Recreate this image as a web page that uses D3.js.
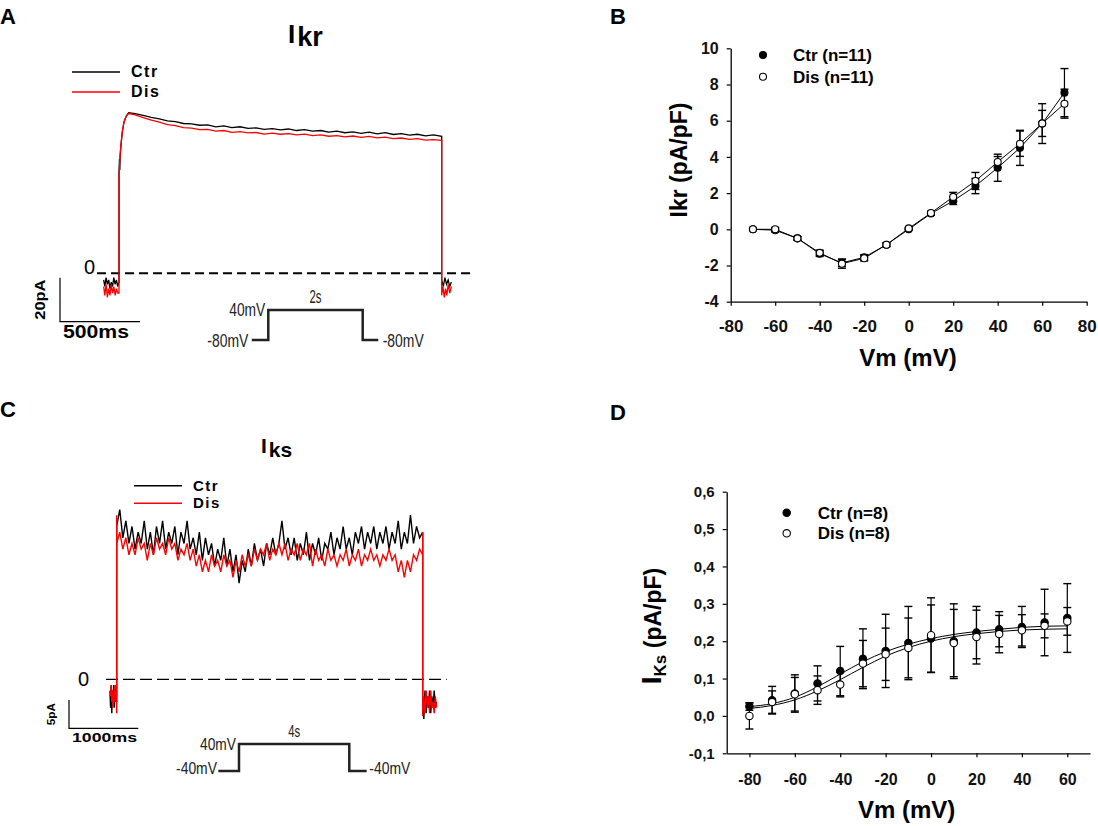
<!DOCTYPE html>
<html>
<head>
<meta charset="utf-8">
<script src="https://cdn.jsdelivr.net/npm/d3@7"></script>
<style>
	body { margin: 0; background: #fff; }
	text { font-family: "Liberation Sans", Arial, sans-serif; }
</style>
</head>
<body>
<svg id="fig" width="1098" height="826"></svg>
<script>
// --- DATA --- \\

// Panel A: Ikr trace (time in ms, current in pA)
var ikrCtrPre = [[-95,-3],[-88,-6],[-80,-2],[-72,-5],[-64,-3],[-56,-7],[-48,-4],[-40,-6],[-32,-2],[-24,-5],[-16,-3],[-8,-6],[0,-4]];
var ikrDisPre = [[-95,-6],[-88,-10],[-80,-5],[-72,-11],[-64,-7],[-56,-10],[-48,-5],[-40,-9],[-32,-6],[-24,-10],[-16,-7],[-8,-9],[0,-9]];
var ikrCtrRise = [[0,46],[3,52],[5,47],[7,53],[12,58],[20,64],[30,68.5],[45,71.5],[60,73]];
var ikrDisRise = [[0,44],[4,50],[8,55],[14,60],[22,65],[32,69],[45,71.5],[60,72.6]];
var ikrPlateauTimes = d3.range(100, 2001, 50);
var ikrCtrPlateau = [72.6,71.8,70.9,70.2,69.3,68.9,68.1,67.9,67.3,67.5,
	66.6,67.0,66.2,66.6,65.9,66.1,65.4,65.8,65.2,65.6,
	64.9,65.3,64.6,64.9,64.2,64.6,63.9,64.3,63.6,64.2,
	63.4,63.9,63.1,63.5,62.8,63.2,62.5,62.9,62.3];
var ikrDisPlateau = [72.0,70.8,69.6,68.7,67.6,67.1,66.2,66.0,65.3,65.4,
	64.6,64.9,64.1,64.4,63.8,64.0,63.3,63.7,63.2,63.5,
	62.9,63.3,62.6,62.9,62.3,62.6,62.0,62.4,61.8,62.2,
	61.6,61.9,61.2,61.5,60.9,61.2,60.5,60.8,60.4];
var ikrCtrTail = [[2000,-3],[2010,-6],[2020,-2],[2030,-5],[2040,-3],[2050,-6],[2060,-4]];
var ikrDisTail = [[2000,-10],[2008,-6],[2016,-11],[2024,-7],[2032,-10],[2040,-5],[2050,-9],[2060,-6]];

// Panel B: Ikr I-V (mV, pA/pF)
var ikrVm = [-70,-60,-50,-40,-30,-20,-10,0,10,20,30,40,50,60,70];
var ikrCtr = [0,-0.05,-0.5,-1.35,-1.85,-1.55,-0.85,0,0.87,1.57,2.39,3.4,4.5,5.84,7.55];
var ikrCtrErr = [0.05,0.1,0.1,0.15,0.2,0.15,0.1,0.05,0.1,0.2,0.42,0.75,0.97,1.1,1.33];
var ikrDis = [0,0,-0.5,-1.3,-1.9,-1.6,-0.85,0.05,0.9,1.79,2.67,3.72,4.73,5.85,6.94];
var ikrDisErr = [0.05,0.1,0.1,0.15,0.25,0.15,0.1,0.05,0.1,0.25,0.47,0.3,0.7,0.72,0.8];
var ikrXTicks = [-80,-60,-40,-20,0,20,40,60,80];
var ikrYTicks = [-4,-2,0,2,4,6,8,10];

// Panel C: Iks trace (time in ms, current in pA)
var iksCtrPre = [[-88,-2],[-80,-5],[-72,-1],[-64,-6],[-56,-2],[-48,-4],[-40,-1],[-32,-5],[-24,-2],[-16,-4],[-8,-1],[0,-4]];
var iksDisPre = [[-80,-3],[-72,-1],[-64,-4],[-56,-2],[-48,-5],[-40,-2],[-32,-4],[-24,-1],[-16,-3],[-8,-2],[0,-6],[0,29]];
var iksTimes = d3.range(0, 4001, 40);
var iksCtrStep = [27,30,25,28,24,27,23,26,24,28,
	23,26,22,27,24,28,23,26,24,27,
	22,26,24,28,23,25,22,26,21,25,
	22,24,20,23,21,25,20,23,19,22,
	17,21,19,23,20,24,21,23,20,24,
	22,25,22,24,28,23,25,22,25,21,
	24,22,26,21,24,22,25,21,24,23,
	26,22,25,23,27,23,25,22,26,24,
	27,23,26,24,27,23,26,24,27,23,
	26,24,28,23,26,24,29,24,27,25,
	26];
var iksDisStep = [24,26,23,25,22,24,22,25,23,24,
	21,24,22,25,23,24,22,25,23,24,
	21,23,22,24,21,23,20,22,19,21,
	19,22,20,21,19,22,20,21,18,21,
	19,22,20,22,20,23,21,23,22,24,
	21,23,22,24,22,24,21,23,22,24,
	21,23,22,24,20,23,21,22,20,23,
	21,22,20,22,21,23,20,22,21,23,
	20,22,21,23,21,22,20,22,21,23,
	21,22,19,21,18,21,19,22,21,23,
	22];
var iksCtrTail = [[4000,-4],[4015,-7],[4030,-2],[4045,-6],[4060,-3],[4075,-5],[4090,-2],[4105,-6],[4120,-3],[4135,-5],[4150,-2],[4165,-5],[4180,-4]];
var iksDisTail = [[4000,26],[4000,-6.5],[4015,-3],[4030,-6],[4045,-2],[4060,-5],[4075,-3],[4090,-6],[4105,-2],[4120,-5],[4135,-4],[4150,-6],[4165,-3],[4180,-5]];

// Panel D: Iks I-V (mV, pA/pF)
var iksVm = [-80,-70,-60,-50,-40,-30,-20,-10,0,10,20,30,40,50,60];
var iksCtr = [0.025,0.042,0.06,0.087,0.12,0.153,0.174,0.195,0.207,0.2,0.223,0.232,0.238,0.25,0.262];
var iksCtrErr = [0.01,0.037,0.05,0.047,0.066,0.08,0.098,0.098,0.09,0.1,0.07,0.047,0.055,0.089,0.092];
var iksDis = [0.0,0.037,0.058,0.069,0.084,0.14,0.165,0.182,0.216,0.195,0.211,0.219,0.229,0.241,0.253];
var iksDisErr = [0.035,0.03,0.045,0.038,0.033,0.062,0.07,0.08,0.1,0.09,0.072,0.05,0.042,0.032,0.037];
var iksCtrFit = [0.025,0.033,0.05,0.078,0.112,0.145,0.172,0.192,0.207,0.218,0.226,0.232,0.237,0.24,0.241];
var iksDisFit = [0.02,0.028,0.043,0.067,0.097,0.13,0.16,0.183,0.2,0.212,0.22,0.226,0.23,0.232,0.233];
var iksXTicks = [-80,-60,-40,-20,0,20,40,60];
var iksYTicks = [-0.1,0,0.1,0.2,0.3,0.4,0.5,0.6];

// voltage protocols (ms, mV); first and last times are lead/tail lengths
var protoA = [[-350,-80],[0,-80],[0,40],[2000,40],[2000,-80],[330,-80]];
var protoC = [[-750,-40],[0,-40],[0,40],[4000,40],[4000,-40],[630,-40]];

var svg = d3.select("#fig");
svg.append("rect").attr("width", 1098).attr("height", 826).attr("fill", "#fff");

function zip(times, vals) {
	return times.map(function(t, i) { return [t, vals[i]]; });
}

function panelLetter(txt, x, y) {
	svg.append("text").attr("x", x).attr("y", y)
		.style("font-size", "22px").style("font-weight", "bold").text(txt);
}

panelLetter("A", 0, 24);
panelLetter("B", 610, 24);
panelLetter("C", 0, 417);
panelLetter("D", 610, 420);

// --- TRACE PANELS --- \\
function tracePanel(o) {
	var g = svg.append("g");
	var line = d3.line().x(function(d) { return o.x(d[0]); }).y(function(d) { return o.y(d[1]); });

	// title: big I plus lowered letters
	var title = g.append("text").attr("x", o.titleX).attr("y", o.titleY)
		.style("font-weight", "bold").style("font-size", o.titleSize[0] + "px");
	title.append("tspan").text("I");
	title.append("tspan").attr("dx", 2).attr("dy", o.titleDy).style("font-size", o.titleSize[1] + "px").text(o.sub);

	// legend
	[["Ctr", "#000"], ["Dis", "#ff0000"]].forEach(function(l, i) {
		var ly = o.legY + i * o.legGap;
		g.append("line").attr("x1", o.legX).attr("x2", o.legX + 48).attr("y1", ly).attr("y2", ly)
			.attr("stroke", l[1]).attr("stroke-width", 1.5);
		g.append("text").attr("x", o.legX + 59).attr("y", ly + 5)
			.style("font-size", o.legSize + "px").style("font-weight", "bold")
			.style("letter-spacing", "1.5px").text(l[0]);
	});

	// zero line
	g.append("line").attr("x1", o.zeroX[0]).attr("x2", o.zeroX[1])
		.attr("y1", o.y(0)).attr("y2", o.y(0))
		.attr("stroke", "#000").attr("stroke-width", o.zeroW).attr("stroke-dasharray", o.dash);
	g.append("text").attr("x", o.zeroLabelX).attr("y", o.y(0) + o.zeroLabelDy)
		.style("font-size", "20px").text("0");

	// traces
	g.append("path").datum(o.ctr).attr("d", line)
		.attr("fill", "none").attr("stroke", "#000").attr("stroke-width", o.traceW);
	g.append("path").datum(o.dis).attr("d", line)
		.attr("fill", "none").attr("stroke", "#ff0000").attr("stroke-width", o.traceW);

	// scale bar
	var sb = o.scaleBar;
	g.append("path").attr("d", "M" + sb.x + "," + sb.top + "V" + sb.bottom + "H" + sb.right)
		.attr("fill", "none").attr("stroke", "#000").attr("stroke-width", 1.2);
	g.append("text").attr("transform", "translate(" + (sb.x - sb.vOff) + "," + ((sb.top + sb.bottom) / 2) + ") rotate(-90)")
		.attr("text-anchor", "middle").attr("textLength", sb.vLen).attr("lengthAdjust", "spacingAndGlyphs")
		.style("font-size", sb.vSize + "px").style("font-weight", "bold").text(sb.vText);
	g.append("text").attr("x", sb.x + 3).attr("y", sb.bottom + sb.hDy)
		.attr("textLength", sb.hLen).attr("lengthAdjust", "spacingAndGlyphs")
		.style("font-size", sb.hSize + "px").style("font-weight", "bold").text(sb.hText);

	// voltage protocol
	var px = d3.scaleLinear().domain([0, o.protoDur]).range(o.protoRange);
	var py = d3.scaleLinear().domain([o.protoV[0], 40]).range(o.protoY);
	var pline = d3.line().x(function(d, i) {
		if (i === 0) return px(d[0]);
		if (i === 5) return px(o.protoDur) + px(d[0]) - px(0);
		return px(d[0]);
	}).y(function(d) { return py(d[1]); });
	g.append("path").datum(o.proto).attr("d", pline)
		.attr("fill", "none").attr("stroke", "#222").attr("stroke-width", 2.5);
	var ps = o.protoSize;
	function plabel(txt, x, y, anchor, len) {
		g.append("text").attr("x", x).attr("y", y).attr("text-anchor", anchor)
			.attr("textLength", len).attr("lengthAdjust", "spacingAndGlyphs")
			.style("font-size", ps + "px").attr("fill", "#222").text(txt);
	}
	plabel("40mV", px(0) - 3, py(40) + o.protoHiDy, "end", 36);
	plabel(o.protoV[1], px(0) - 20 + o.protoLowShift, py(o.protoV[0]) + o.protoLoDy, "end", 41);
	plabel(o.protoDurText, (px(0) + px(o.protoDur)) / 2, py(40) - 7, "middle", 12);
	plabel(o.protoV[1], px(o.protoDur) + 20, py(o.protoV[0]) + o.protoLoDy, "start", 41);
}

tracePanel({
	x: d3.scaleLinear().domain([0, 2000]).range([119, 441.7]),
	y: d3.scaleLinear().domain([0, 20]).range([273.3, 229.3]),
	ctr: ikrCtrPre.concat(ikrCtrRise, zip(ikrPlateauTimes, ikrCtrPlateau), ikrCtrTail),
	dis: ikrDisPre.concat(ikrDisRise, zip(ikrPlateauTimes, ikrDisPlateau), ikrDisTail),
	sub: "kr", titleX: 288, titleY: 43, titleDy: 3, titleSize: [26, 27],
	legX: 72, legY: 72, legGap: 20, legSize: 16,
	zeroX: [97, 470], zeroW: 2, dash: "9,5", zeroLabelX: 84, zeroLabelDy: 1,
	traceW: 1.3,
	scaleBar: { x: 60, top: 277.7, bottom: 321.7, right: 140, vOff: 15, vLen: 40, vSize: 15, vText: "20pA",
		hDy: 16, hLen: 66, hSize: 18, hText: "500ms" },
	proto: protoA, protoDur: 2000, protoRange: [268.3, 362.7], protoV: [-80, "-80mV"], protoY: [340, 310],
	protoSize: 19, protoHiDy: 6, protoLoDy: 7, protoLowShift: 0, protoDurText: "2s"
});

tracePanel({
	x: d3.scaleLinear().domain([0, 4000]).range([116.7, 422.7]),
	y: d3.scaleLinear().domain([0, 5]).range([679.3, 651]),
	ctr: iksCtrPre.concat(zip(iksTimes, iksCtrStep), iksCtrTail),
	dis: iksDisPre.concat(zip(iksTimes, iksDisStep), iksDisTail),
	sub: "ks", titleX: 261, titleY: 453, titleDy: 4, titleSize: [21, 21],
	legX: 134, legY: 485.7, legGap: 17.6, legSize: 15,
	zeroX: [106, 446.7], zeroW: 1.3, dash: "12,5", zeroLabelX: 78, zeroLabelDy: 7,
	traceW: 1.4,
	scaleBar: { x: 69, top: 700, bottom: 728.3, right: 138.3, vOff: 14, vLen: 22, vSize: 11, vText: "5pA",
		hDy: 13.4, hLen: 65, hSize: 13, hText: "1000ms" },
	proto: protoC, protoDur: 4000, protoRange: [239, 349.3], protoV: [-40, "-40mV"], protoY: [771, 744],
	protoSize: 17, protoHiDy: 6, protoLoDy: 3, protoLowShift: -2, protoDurText: "4s"
});

// --- I-V PANELS --- \\
function ivPanel(o) {
	var g = svg.append("g");
	var x = o.x, y = o.y;

	var xAxis = g.append("g").attr("transform", "translate(0," + y.range()[0] + ")")
		.call(d3.axisBottom(x).tickValues(o.xTicks).tickSize(4).tickSizeOuter(0).tickPadding(o.xPad)
			.tickFormat(function(d) { return String(d); }));
	var yAxis = g.append("g").attr("transform", "translate(" + x.range()[0] + ",0)")
		.call(d3.axisLeft(y).tickValues(o.yTicks).tickSize(4).tickSizeOuter(0).tickPadding(8)
			.tickFormat(o.yFormat));
	[xAxis, yAxis].forEach(function(a) {
		a.select(".domain").attr("stroke", "#000").attr("stroke-width", 1.3);
		a.selectAll(".tick line").attr("stroke", "#000").attr("stroke-width", 1.2);
		a.selectAll(".tick text").attr("fill", "#111").style("font-weight", "bold")
			.style("font-family", "'Liberation Sans', Arial, sans-serif");
	});
	xAxis.selectAll(".tick text").style("font-size", o.xTickSize + "px");
	yAxis.selectAll(".tick text").style("font-size", o.yTickSize + "px");

	// axis titles
	g.append("text").attr("x", o.xTitle[0]).attr("y", o.xTitle[1]).attr("text-anchor", "middle")
		.style("font-size", "24px").style("font-weight", "bold").text("Vm (mV)");
	var yt = g.append("text").attr("transform", "translate(" + o.yTitle[0] + "," + o.yTitle[1] + ") rotate(-90)")
		.attr("text-anchor", "middle").style("font-weight", "bold").style("font-size", "23px");
	o.yTitleParts.forEach(function(p) {
		var t = yt.append("tspan").text(p.t);
		if (p.size) t.style("font-size", p.size + "px");
		if (p.dy) t.attr("dy", p.dy);
	});

	// fit curves or connecting lines
	var line = d3.line().x(function(d) { return x(d[0]); }).y(function(d) { return y(d[1]); });
	if (o.curve) line.curve(o.curve);
	o.lines.forEach(function(l) {
		g.append("path").datum(zip(o.vm, l)).attr("d", line)
			.attr("fill", "none").attr("stroke", "#000").attr("stroke-width", 1);
	});

	// error bars, then markers
	var series = [
		{ v: o.ctr, e: o.ctrErr, fill: "#000" },
		{ v: o.dis, e: o.disErr, fill: "#fff" }
	];
	series.forEach(function(s) {
		var pts = zip(o.vm, s.v).map(function(d, i) { return { x: d[0], y: d[1], e: s.e[i] }; });
		var eb = g.append("g").selectAll("g").data(pts).enter().append("g");
		eb.append("line").attr("x1", function(d) { return x(d.x); }).attr("x2", function(d) { return x(d.x); })
			.attr("y1", function(d) { return y(d.y + d.e); }).attr("y2", function(d) { return y(d.y - d.e); })
			.attr("stroke", "#000").attr("stroke-width", 1.2);
		[1, -1].forEach(function(sign) {
			eb.append("line").attr("x1", function(d) { return x(d.x) - o.cap; }).attr("x2", function(d) { return x(d.x) + o.cap; })
				.attr("y1", function(d) { return y(d.y + sign * d.e); }).attr("y2", function(d) { return y(d.y + sign * d.e); })
				.attr("stroke", "#000").attr("stroke-width", 1.4);
		});
	});
	series.forEach(function(s) {
		g.append("g").selectAll("circle").data(zip(o.vm, s.v)).enter().append("circle")
			.attr("cx", function(d) { return x(d[0]); }).attr("cy", function(d) { return y(d[1]); })
			.attr("r", o.r).attr("fill", s.fill).attr("stroke", "#000").attr("stroke-width", 1.1);
	});

	// legend
	o.legend.forEach(function(l, i) {
		var ly = o.legY + i * o.legGap;
		g.append("circle").attr("cx", o.legX).attr("cy", ly).attr("r", o.r)
			.attr("fill", i === 0 ? "#000" : "#fff").attr("stroke", "#000").attr("stroke-width", 1.1);
		g.append("text").attr("x", o.legX + o.legTextDx).attr("y", ly + 6)
			.style("font-size", "17px").style("font-weight", "bold").text(l);
	});
}

ivPanel({
	x: d3.scaleLinear().domain([-80, 80]).range([730.7, 1086.7]),
	y: d3.scaleLinear().domain([-4, 10]).range([301.7, 48.3]),
	xTicks: ikrXTicks, yTicks: ikrYTicks, xPad: 14, xTickSize: 17, yTickSize: 16,
	yFormat: function(d) { return String(d); },
	xTitle: [908, 366], yTitle: [687, 160],
	yTitleParts: [{ t: "Ikr (pA/pF)" }],
	vm: ikrVm, ctr: ikrCtr, ctrErr: ikrCtrErr, dis: ikrDis, disErr: ikrDisErr,
	lines: [ikrCtr, ikrDis], curve: null, cap: 4, r: 3.5,
	legend: ["Ctr (n=11)", "Dis (n=11)"], legX: 763, legY: 55, legGap: 21.7, legTextDx: 30
});

ivPanel({
	x: d3.scaleLinear().domain([-90, 70]).range([726.7, 1090]),
	y: d3.scaleLinear().domain([-0.1, 0.6]).range([753.3, 491.7]),
	xTicks: iksXTicks, yTicks: iksYTicks, xPad: 16, xTickSize: 16, yTickSize: 15,
	yFormat: function(d) { return d.toFixed(1).replace(".", ","); },
	xTitle: [906.7, 818], yTitle: [661, 626],
	yTitleParts: [{ t: "I", size: 28 }, { t: "Ks", size: 17, dy: 5 }, { t: " (pA/pF)", size: 23, dy: -5 }],
	vm: iksVm, ctr: iksCtr, ctrErr: iksCtrErr, dis: iksDis, disErr: iksDisErr,
	lines: [iksCtrFit, iksDisFit], curve: d3.curveMonotoneX, cap: 4, r: 3.7,
	legend: ["Ctr (n=8)", "Dis (n=8)"], legX: 786.7, legY: 512.7, legGap: 20.6, legTextDx: 31
});
</script>
</body>
</html>
